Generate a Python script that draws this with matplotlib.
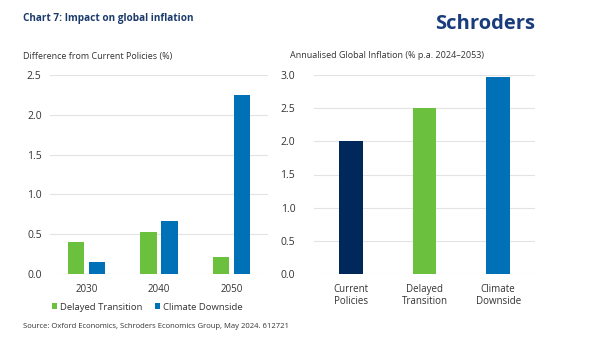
import matplotlib
matplotlib.use("Agg")
import matplotlib.pyplot as plt
import numpy as np

plt.rcParams['font.family'] = ['Open Sans', 'DejaVu Sans']

# Left panel: difference from current policies
years = ["2030", "2040", "2050"]
delayed_diff = [0.41, 0.53, 0.22]
downside_diff = [0.15, 0.67, 2.25]
left_ticks = [0.0, 0.5, 1.0, 1.5, 2.0, 2.5]

# Right panel: annualised global inflation
scenarios = ["Current\nPolicies", "Delayed\nTransition", "Climate\nDownside"]
annual_infl = [2.0, 2.5, 2.96]
right_ticks = [0.0, 0.5, 1.0, 1.5, 2.0, 2.5, 3.0]

GREEN = "#6bc13e"
BLUE = "#0071b6"
NAVY = "#00285a"
TITLE = "#1c3b6c"
LOGO = "#1a3b7c"
TXT = "#333333"
GRID = "#e3e3e3"

fig = plt.figure(figsize=(6.0, 3.42), dpi=100)
fig.patch.set_facecolor("white")

W, H = 600, 342
def ax_rect(x0, x1, ytop, ybot):
    return [x0 / W, 1 - ybot / H, (x1 - x0) / W, (ybot - ytop) / H]

axL = fig.add_axes(ax_rect(50, 268, 74.7, 274.3))
axR = fig.add_axes(ax_rect(314, 535, 74.7, 274.3))

def style(ax, ticks, ypad):
    for s in ax.spines.values():
        s.set_visible(False)
    ax.set_yticks(ticks)
    ax.set_yticklabels([f"{t:.1f}" for t in ticks])
    ax.set_ylim(0, ticks[-1])
    ax.yaxis.grid(True, color=GRID, linewidth=0.8)
    ax.set_axisbelow(True)
    ax.tick_params(axis="both", length=0, colors=TXT)
    ax.tick_params(axis="y", pad=ypad, labelsize=7.5)
    ax.tick_params(axis="x", pad=7, labelsize=7)
    ax.set_xlim(-0.5, 2.5)

x = np.arange(len(years))
bw = 0.225
gap = 0.03
axL.bar(x - bw / 2 - gap, delayed_diff, bw, color=GREEN, label="Delayed Transition")
axL.bar(x + bw / 2 + gap, downside_diff, bw, color=BLUE, label="Climate Downside")
style(axL, left_ticks, 6)
axL.set_xticks(x)
axL.set_xticklabels(years)

xr = np.arange(len(scenarios))
axR.bar(xr, annual_infl, 0.32, color=[NAVY, GREEN, BLUE])
style(axR, right_ticks, 13.5)
axR.set_xticks(xr)
axR.set_xticklabels(scenarios, linespacing=1.15)

fig.legend(*axL.get_legend_handles_labels(), loc="center left",
           bbox_to_anchor=(52 / W, 1 - 307 / H), ncol=2,
           frameon=False, fontsize=6.8, handlelength=0.55, handleheight=0.55,
           handletextpad=0.25, columnspacing=1.4, labelcolor=TXT,
           borderpad=0, borderaxespad=0)

fig.text(23 / W, 1 - 18 / H, "Chart 7: Impact on global inflation", fontsize=7.2,
         fontweight="bold", color=TITLE, va="center", ha="left")
fig.text(535 / W, 1 - 24 / H, "Schroders", fontsize=14.5, fontweight="bold",
         color=LOGO, va="center", ha="right")
fig.text(23 / W, 1 - 56 / H, "Difference from Current Policies (%)", fontsize=6.5,
         color=TXT, va="center", ha="left")
fig.text(290 / W, 1 - 56 / H, "Annualised Global Inflation (% p.a. 2024\u20132053)",
         fontsize=6.5, color=TXT, va="center", ha="left")
fig.text(23 / W, 1 - 327 / H,
         "Source: Oxford Economics, Schroders Economics Group, May 2024. 612721",
         fontsize=5.5, color=TXT, va="center", ha="left")

fig.savefig("out.png", dpi=100, facecolor="white")
